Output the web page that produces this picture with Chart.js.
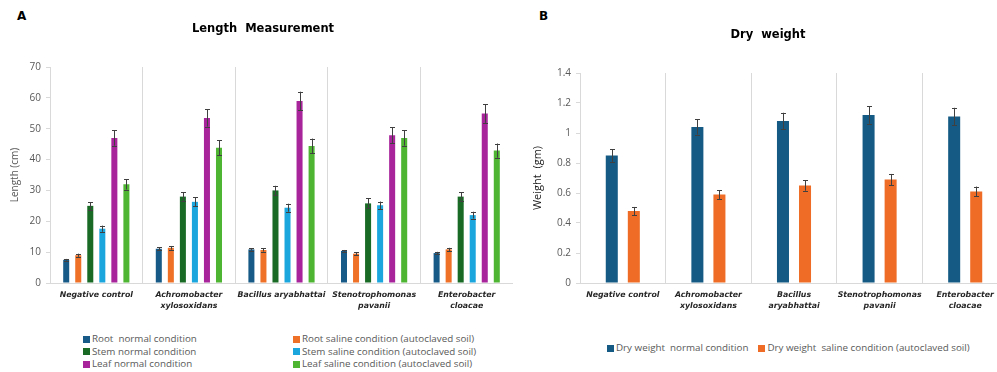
<!DOCTYPE html>
<html>
<head>
<meta charset="utf-8">
<script src="https://cdn.jsdelivr.net/npm/chart.js@4.4.0/dist/chart.umd.min.js"></script>
<style>
  body { margin: 0; width: 997px; height: 372px; overflow: hidden; position: relative; background: #fff; }
  canvas { position: absolute; top: 0; }
  .panel { position: absolute; top: 10px; font: bold 12px/12px "DejaVu Sans"; color: #000; }
  .legend { position: absolute; font: 9.8px/12.5px "Open Sans"; color: #595959; white-space: pre; }
  .legend .item { display: flex; align-items: center; }
  .legend .box { width: 7px; height: 7px; margin-right: 2px; flex: none; }
  #lenLegend { left: 83px; top: 333px; display: grid; grid-template-columns: 210px auto; }
  #dryLegend { left: 607px; top: 342px; display: flex; gap: 10px; }
</style>
</head>
<body>
<div class="panel" style="left:17px">A</div>
<div class="panel" style="left:539px">B</div>
<canvas id="lenChart" width="513" height="313" style="left:0"></canvas>
<canvas id="dryChart" width="488" height="313" style="left:520px"></canvas>
<div id="lenLegend" class="legend"></div>
<div id="dryLegend" class="legend"></div>
<script>
// --- panel A: length (cm) ---
const lenCategories = [
  ['Negative control'],
  ['Achromobacter', 'xylosoxidans'],
  ['Bacillus aryabhattai'],
  ['Stenotrophomonas', 'pavanii'],
  ['Enterobacter', 'cloacae'],
];
const rootNormal = [7.5, 11.1, 10.9, 10.4, 9.7];
const rootSaline = [9.0, 11.4, 10.7, 9.5, 10.9];
const stemNormal = [25.0, 28.0, 30.0, 25.8, 28.0];
const stemSaline = [17.6, 26.3, 24.4, 25.2, 22.0];
const leafNormal = [47.0, 53.5, 59.0, 47.9, 54.9];
const leafSaline = [32.0, 43.8, 44.4, 47.0, 42.9];

const rootNormalErr = [0.3, 0.5, 0.4, 0.3, 0.4];
const rootSalineErr = [0.5, 0.6, 0.5, 0.4, 0.5];
const stemNormalErr = [1.2, 1.4, 1.5, 1.6, 1.4];
const stemSalineErr = [1.0, 1.5, 1.3, 1.2, 1.1];
const leafNormalErr = [2.5, 2.8, 3.0, 2.5, 3.0];
const leafSalineErr = [1.7, 2.4, 2.4, 2.5, 2.3];

const lengthTicks = [0, 10, 20, 30, 40, 50, 60, 70];

// --- panel B: dry weight (gm) ---
const dryCategories = [
  ['Negative control'],
  ['Achromobacter', 'xylosoxidans'],
  ['Bacillus', 'aryabhattai'],
  ['Stenotrophomonas', 'pavanii'],
  ['Enterobacter', 'cloacae'],
];
const dryNormal = [0.85, 1.04, 1.08, 1.12, 1.11];
const drySaline = [0.48, 0.59, 0.65, 0.69, 0.61];
const dryNormalErr = [0.043, 0.05, 0.055, 0.058, 0.058];
const drySalineErr = [0.027, 0.03, 0.035, 0.037, 0.033];

const weightTicks = [0, 0.2, 0.4, 0.6, 0.8, 1, 1.2, 1.4];
const weightTickLabels = ['0', '0.2', '0.4', '0.6', '0.8', '1', '1.2', '1.4'];

Chart.defaults.font.family = 'Open Sans';
Chart.defaults.animation = false;
Chart.defaults.devicePixelRatio = 1;

const errorBars = {
  id: 'errorBars',
  afterDatasetsDraw(chart) {
    const ctx = chart.ctx;
    const y = chart.scales.y;
    ctx.save();
    ctx.strokeStyle = '#404040';
    ctx.lineWidth = 1;
    chart.data.datasets.forEach((ds, i) => {
      chart.getDatasetMeta(i).data.forEach((bar, j) => {
        const v = ds.data[j], e = ds.errors[j];
        const top = y.getPixelForValue(v + e);
        const bot = y.getPixelForValue(v - e);
        const x = Math.round(bar.x) + 0.5;
        ctx.beginPath();
        ctx.moveTo(x, top); ctx.lineTo(x, bot);
        ctx.moveTo(x - 2.5, Math.round(top) + 0.5); ctx.lineTo(x + 2.5, Math.round(top) + 0.5);
        ctx.moveTo(x - 2.5, Math.round(bot) + 0.5); ctx.lineTo(x + 2.5, Math.round(bot) + 0.5);
        ctx.stroke();
      });
    });
    ctx.restore();
  }
};

function xScale() {
  return {
    grid: { color: '#d9d9d9', drawTicks: false },
    border: { color: '#d9d9d9' },
    ticks: {
      font: { family: 'DejaVu Sans', size: 7.8, weight: 'bold', style: 'italic', lineHeight: 1.4 },
      color: '#262626', padding: 7, maxRotation: 0, autoSkip: false
    },
    afterFit(s) { s.height = 30; }
  };
}

const lenDatasets = [
  { label: 'Root  normal condition', data: rootNormal, errors: rootNormalErr, backgroundColor: '#175a87' },
  { label: 'Root saline condition (autoclaved soil)', data: rootSaline, errors: rootSalineErr, backgroundColor: '#ee7127' },
  { label: 'Stem normal condition', data: stemNormal, errors: stemNormalErr, backgroundColor: '#186a24' },
  { label: 'Stem saline condition (autoclaved soil)', data: stemSaline, errors: stemSalineErr, backgroundColor: '#1ba6de' },
  { label: 'Leaf normal condition', data: leafNormal, errors: leafNormalErr, backgroundColor: '#a7249b' },
  { label: 'Leaf saline condition (autoclaved soil)', data: leafSaline, errors: leafSalineErr, backgroundColor: '#4db532' },
];

const lenChart = new Chart(document.getElementById('lenChart'), {
  type: 'bar',
  data: { labels: lenCategories, datasets: lenDatasets },
  options: {
    responsive: false,
    layout: { padding: { left: 13, right: 0, top: 0, bottom: 0 } },
    datasets: { bar: { categoryPercentage: 0.78, barPercentage: 0.5 } },
    plugins: {
      legend: { display: false },
      tooltip: { enabled: false },
      title: {
        display: true, text: 'Length  Measurement', color: '#000',
        font: { family: 'DejaVu Sans', size: 11.5, weight: 'bold' },
        padding: { top: 22, bottom: 31.2 }
      }
    },
    scales: {
      x: xScale(),
      y: {
        min: 0, max: 70,
        afterBuildTicks(s) { s.ticks = lengthTicks.map(v => ({ value: v })); },
        afterFit(s) { s.width = 37; },
        grid: { drawOnChartArea: false, color: '#d9d9d9', tickLength: 4 },
        border: { color: '#d9d9d9' },
        ticks: { font: { size: 10 }, color: '#595959', padding: 5 },
        title: { display: true, text: 'Length (cm)', color: '#595959', font: { size: 10 }, padding: { top: -4, bottom: 0 } }
      }
    }
  },
  plugins: [errorBars]
});

const dryDatasets = [
  { label: 'Dry weight  normal condition', data: dryNormal, errors: dryNormalErr, backgroundColor: '#145a84' },
  { label: 'Dry weight  saline condition (autoclaved soil)', data: drySaline, errors: drySalineErr, backgroundColor: '#ee6c25' },
];

const dryChart = new Chart(document.getElementById('dryChart'), {
  type: 'bar',
  data: { labels: dryCategories, datasets: dryDatasets },
  options: {
    responsive: false,
    layout: { padding: { left: 8, right: 0, top: 0, bottom: 0 } },
    datasets: { bar: { categoryPercentage: 0.515, barPercentage: 0.545 } },
    plugins: {
      legend: { display: false },
      tooltip: { enabled: false },
      title: {
        display: true, text: 'Dry  weight', color: '#000',
        font: { family: 'DejaVu Sans', size: 11.5, weight: 'bold' },
        padding: { top: 28, bottom: 31.2 }
      }
    },
    scales: {
      x: xScale(),
      y: {
        min: 0, max: 1.4,
        afterBuildTicks(s) { s.ticks = weightTicks.map(v => ({ value: v })); },
        afterFit(s) { s.width = 52; },
        grid: { drawOnChartArea: false, color: '#d9d9d9', tickLength: 4 },
        border: { color: '#d9d9d9' },
        ticks: { font: { size: 10 }, color: '#595959', padding: 5, callback: (v, i) => weightTickLabels[i] },
        title: { display: true, text: 'Weight  (gm)', color: '#1a1a1a', font: { size: 11 }, padding: { top: 3, bottom: 0 } }
      }
    }
  },
  plugins: [errorBars]
});

// html legends built from the chart datasets
function buildLegend(chart, id) {
  const el = document.getElementById(id);
  chart.data.datasets.forEach(ds => {
    const item = document.createElement('div');
    item.className = 'item';
    const box = document.createElement('span');
    box.className = 'box';
    box.style.background = ds.backgroundColor;
    item.appendChild(box);
    item.appendChild(document.createTextNode(ds.label));
    el.appendChild(item);
  });
}
buildLegend(lenChart, 'lenLegend');
buildLegend(dryChart, 'dryLegend');
</script>
</body>
</html>
